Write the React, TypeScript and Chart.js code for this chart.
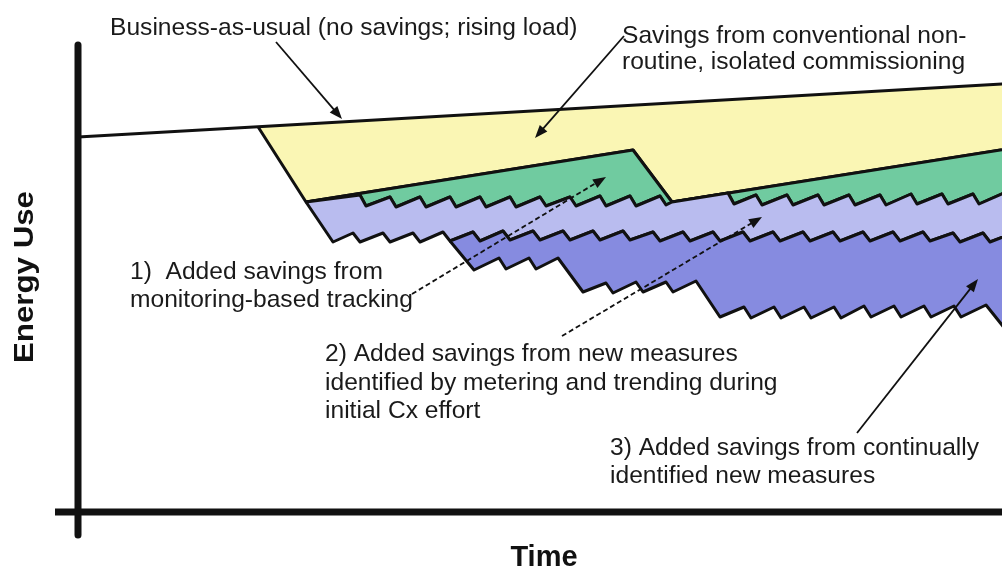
import React, { useEffect, useRef } from "react";
import { Chart, registerables } from "chart.js";

Chart.register(...registerables);

// Horizontal: time units (0 = energy axis). Vertical: energy units (0 = time axis).
const bauTime = [0, 180, 960];
const bauEnergy = [375, 385.3, 430];

// conventional, isolated commissioning (drop, drift, re-commissioning, drift)
const cxTime = [180, 228, 555, 594, 960];
const cxEnergy = [385.3, 310, 362, 310, 368];

// 1) monitoring-based tracking (saw-tooth)
const mbcxTime = [228, 282, 288, 312, 318, 342, 348, 372, 378, 402, 408, 432, 438, 462, 468, 492, 498, 522, 528, 552, 558, 582, 588, 594, 650, 656, 678, 684, 709, 715, 740, 746, 771, 777, 802, 808, 833, 839, 864, 870, 895, 901, 926, 932, 957];
const mbcxEnergy = [310, 317, 306, 315, 305, 315, 305, 315, 305, 315, 305, 315, 305, 315, 306, 315, 306, 316, 306, 316, 306, 316, 307, 310, 319, 308, 317, 307, 317, 307, 317, 307, 317, 307, 317, 307, 318, 308, 318, 308, 318, 308, 319, 309, 319];

// 2) new measures from metering and trending during initial Cx
const newMeasTime = [255, 275, 282, 305, 312, 335, 342, 365, 372, 395, 402, 425, 432, 455, 462, 485, 492, 515, 522, 545, 552, 575, 582, 605, 612, 635, 642, 665, 672, 695, 702, 725, 732, 755, 762, 785, 792, 815, 822, 845, 852, 875, 882, 905, 912, 935];
const newMeasEnergy = [270, 279, 270, 279, 270, 279, 270, 280, 271, 280, 271, 281, 272, 281, 272, 281, 272, 281, 272, 281, 272, 280, 271, 280, 271, 280, 271, 280, 271, 280, 271, 280, 271, 280, 271, 280, 271, 280, 271, 280, 271, 279, 270, 279, 270, 279];

// 3) continually identified new measures (stepped saw-tooth)
const contTime = [372, 396, 421, 428, 451, 458, 480, 505, 528, 535, 558, 565, 588, 595, 618, 642, 666, 673, 696, 703, 726, 733, 756, 763, 786, 793, 816, 823, 846, 853, 876, 883, 908, 928, 937];
const contEnergy = [271, 242, 254, 243, 254, 243, 254, 220, 229, 219, 230, 220, 230, 220, 231, 195, 205, 194, 205, 194, 205, 194, 205, 194, 206, 195, 206, 195, 206, 195, 206, 195, 207, 182, 184];

// axes
const energyAxisTime = [0, 0];
const energyAxisEnergy = [467, -23];
const timeAxisTime = [-23, 960];
const timeAxisEnergy = [0, 0];

const captions = [
  { lines: ["Business-as-usual (no savings; rising load)"], t: 32, e: 477, gap: 26 },
  { lines: ["Savings from conventional non-", "routine, isolated commissioning"], t: 544, e: 469, gap: 26 },
  { lines: ["1)  Added savings from", "monitoring-based tracking"], t: 52, e: 233, gap: 28 },
  { lines: ["2) Added savings from new measures", "identified by metering and trending during", "initial Cx effort"], t: 247, e: 151, gap: 28.5 },
  { lines: ["3) Added savings from continually", "identified new measures"], t: 532, e: 57, gap: 28 },
];

const arrows = [
  { from: [198, 470], to: [264, 393], dash: false },
  { from: [546, 476], to: [457, 374], dash: false },
  { from: [334, 218], to: [528, 335], dash: true },
  { from: [484, 176], to: [684, 295], dash: true },
  { from: [779, 79], to: [900, 233], dash: false },
];

const FONT = '"Liberation Sans", Arial, Helvetica, sans-serif';

const pts = (xs: number[], ys: number[]) => xs.map((x, i) => ({ x, y: ys[i] }));

const annotationPlugin = {
  id: "annotations",
  afterDatasetsDraw(chart: any) {
    const { ctx, scales } = chart;
    const X = (v: number) => scales.x.getPixelForValue(v);
    const Y = (v: number) => scales.y.getPixelForValue(v);
    ctx.save();
    // arrows
    for (const a of arrows) {
      const x1 = X(a.from[0]), y1 = Y(a.from[1]);
      const x2 = X(a.to[0]), y2 = Y(a.to[1]);
      const ang = Math.atan2(y2 - y1, x2 - x1);
      const head = 13, half = 5;
      ctx.strokeStyle = "#111";
      ctx.fillStyle = "#111";
      ctx.lineWidth = 1.8;
      ctx.setLineDash(a.dash ? [5, 3] : []);
      ctx.beginPath();
      ctx.moveTo(x1, y1);
      ctx.lineTo(x2 - Math.cos(ang) * head * 0.8, y2 - Math.sin(ang) * head * 0.8);
      ctx.stroke();
      ctx.setLineDash([]);
      ctx.beginPath();
      ctx.moveTo(x2, y2);
      ctx.lineTo(x2 - Math.cos(ang) * head - Math.sin(ang) * half, y2 - Math.sin(ang) * head + Math.cos(ang) * half);
      ctx.lineTo(x2 - Math.cos(ang) * head + Math.sin(ang) * half, y2 - Math.sin(ang) * head - Math.cos(ang) * half);
      ctx.closePath();
      ctx.fill();
    }
    // captions
    ctx.fillStyle = "#1a1a1a";
    ctx.font = `24.6px ${FONT}`;
    ctx.textAlign = "left";
    ctx.textBaseline = "alphabetic";
    for (const c of captions) {
      c.lines.forEach((line, i) => {
        ctx.fillText(line, X(c.t), Y(c.e) + i * c.gap);
      });
    }
    // axis titles
    ctx.fillStyle = "#111";
    ctx.font = `bold 28px ${FONT}`;
    ctx.textAlign = "center";
    ctx.textBaseline = "middle";
    ctx.save();
    ctx.translate(X(-53), Y(235));
    ctx.rotate(-Math.PI / 2);
    const w = ctx.measureText("Energy Use").width;
    ctx.scale(172 / w, 1);
    ctx.fillText("Energy Use", 0, 0);
    ctx.restore();
    ctx.font = `bold 29px ${FONT}`;
    ctx.textBaseline = "alphabetic";
    ctx.fillText("Time", X(466), Y(-54));
    ctx.restore();
  },
};

export default function App() {
  const ref = useRef<HTMLCanvasElement | null>(null);
  useEffect(() => {
    if (!ref.current) return;
    const cx = pts(cxTime, cxEnergy);
    const mbcx = pts(mbcxTime, mbcxEnergy);
    const nm = pts(newMeasTime, newMeasEnergy);
    const cont = pts(contTime, contEnergy);
    const bau = pts(bauTime, bauEnergy);
    const base = {
      showLine: true,
      pointRadius: 0,
      pointHoverRadius: 0,
      borderColor: "#111",
      borderWidth: 3,
      borderJoinStyle: "round" as const,
      tension: 0,
    };
    const chart = new Chart(ref.current, {
      type: "scatter",
      data: {
        datasets: [
          { ...base, label: "Time axis", data: pts(timeAxisTime, timeAxisEnergy), borderWidth: 7, fill: false, order: 1 },
          { ...base, label: "Energy axis", data: pts(energyAxisTime, energyAxisEnergy), borderWidth: 7, fill: false, order: 2 },
          { ...base, label: "Business-as-usual", data: bau, fill: false, order: 3 },
          {
            ...base,
            label: "3) Continually identified new measures",
            data: [...cont, ...nm.filter((p) => p.x >= contTime[0]).reverse()],
            backgroundColor: "#868be0",
            fill: "shape",
            order: 4,
          },
          {
            ...base,
            label: "2) New measures from metering and trending",
            data: [...mbcx, ...nm.slice().reverse(), mbcx[0]],
            backgroundColor: "#b9bcef",
            fill: "shape",
            order: 5,
          },
          {
            ...base,
            label: "1) Monitoring-based tracking",
            data: [...cx.slice(1), ...mbcx.slice().reverse()],
            backgroundColor: "#70cba0",
            fill: "shape",
            order: 6,
          },
          {
            ...base,
            label: "Conventional commissioning",
            data: [...cx, { x: bauTime[bauTime.length - 1], y: bauEnergy[bauEnergy.length - 1] }],
            backgroundColor: "#faf6b4",
            fill: "shape",
            order: 7,
          },
        ],
      },
      options: {
        animation: false,
        responsive: false,
        maintainAspectRatio: false,
        events: [],
        layout: { padding: 0, autoPadding: false },
        plugins: { legend: { display: false }, tooltip: { enabled: false } },
        scales: {
          x: { type: "linear", min: -78, max: 924, display: false },
          y: { type: "linear", min: -59, max: 512, display: false },
        },
      },
      plugins: [annotationPlugin],
    });
    return () => chart.destroy();
  }, []);
  return (
    <div style={{ position: "fixed", left: 0, top: 0, width: 1002, height: 571, background: "#fff" }}>
      <canvas ref={ref} width={1002} height={571} style={{ display: "block", width: 1002, height: 571 }} />
    </div>
  );
}
